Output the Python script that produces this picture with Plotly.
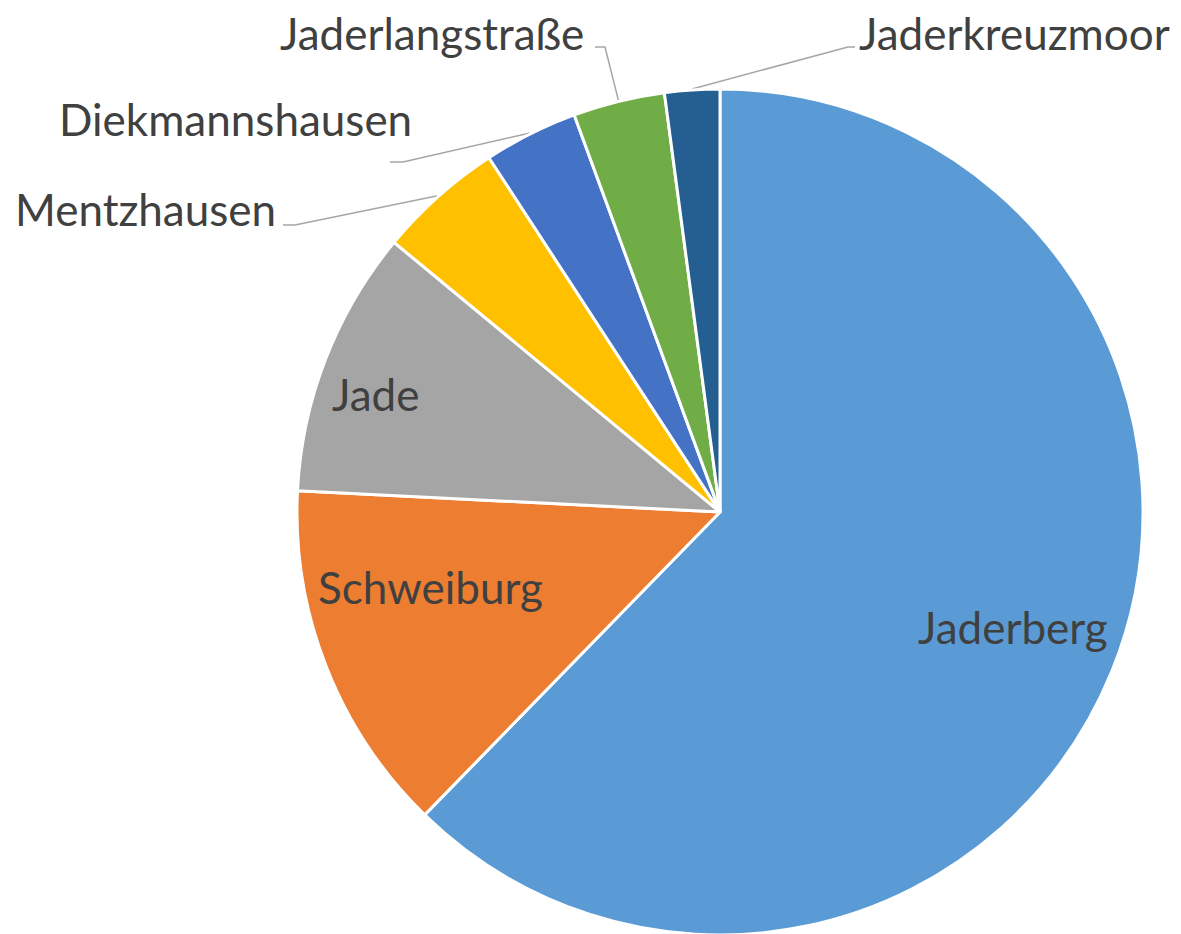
import math
import plotly.graph_objects as go

# ---- data ----
labels = ["Jaderberg", "Schweiburg", "Jade", "Mentzhausen",
          "Diekmannshausen", "Jaderlangstraße", "Jaderkreuzmoor"]
values = [62.3, 13.5, 10.2, 4.8, 3.6, 3.5, 2.1]
colors = ["#5B9BD5", "#ED7D31", "#A5A5A5", "#FFC000",
          "#4472C4", "#70AD47", "#255E91"]

# ---- layout constants (screen pixels; page body has an 8px margin) ----
W, H = 1181, 934
OFF = 8
CX, CY, R = 720, 512, 423
FONT = "Lato"
TXT = "#404040"
FS = 44

inside_pos = {"Jaderberg": (1013, 627), "Schweiburg": (430, 587), "Jade": (375, 394)}
# outside: (elbow x, elbow y, end x of short horizontal, text x, text y, anchor)
outside = {
    "Mentzhausen": (295, 225, 283, 278, 209, "right"),
    "Diekmannshausen": (403, 162, 390, 414, 119, "right"),
    "Jaderlangstraße": (605, 47, 595, 586, 33, "right"),
    "Jaderkreuzmoor": (848, 47, 855, 857, 33, "left"),
}

total = sum(values)
mids = {}
cum = 0.0
for lab, v in zip(labels, values):
    mids[lab] = (cum + v / 2) / total * 360.0
    cum += v

def edge(theta, r):
    t = math.radians(theta)
    return CX + r * math.sin(t), CY - r * math.cos(t)

fig = go.Figure()

for lab, (ex, ey, hx, tx, ty, anc) in outside.items():
    sx, sy = edge(mids[lab], R + 1)
    fig.add_trace(go.Scatter(x=[sx, ex, hx], y=[sy, ey, ey], mode="lines",
                             line=dict(color="#A6A6A6", width=1.5),
                             hoverinfo="skip", showlegend=False))

fx0, fx1 = CX - R - OFF, CX + R - OFF
fy_top, fy_bot = CY - R - OFF, CY + R - OFF
fig.add_trace(go.Pie(
    labels=labels, values=values, sort=False, direction="clockwise", rotation=0,
    marker=dict(colors=colors, line=dict(color="white", width=3)),
    textinfo="none", hoverinfo="label+percent", showlegend=False,
    domain=dict(x=[fx0 / W, fx1 / W],
                y=[max(0, (H - fy_bot) / H), min(1, (H - fy_top) / H)]),
))

ann = []
for lab, (x, y) in inside_pos.items():
    ann.append(dict(x=x, y=y, xref="x", yref="y", text=lab, showarrow=False,
                    xanchor="center", yanchor="middle",
                    font=dict(family=FONT, size=FS, color=TXT)))
for lab, (ex, ey, hx, tx, ty, anc) in outside.items():
    ann.append(dict(x=tx, y=ty, xref="x", yref="y", text=lab, showarrow=False,
                    xanchor=anc, yanchor="middle",
                    font=dict(family=FONT, size=FS, color=TXT)))

fig.update_layout(
    width=W, height=H, margin=dict(l=0, r=0, t=0, b=0),
    paper_bgcolor="white", plot_bgcolor="rgba(0,0,0,0)",
    xaxis=dict(range=[OFF, W + OFF], visible=False, fixedrange=True, domain=[0, 1]),
    yaxis=dict(range=[H + OFF, OFF], visible=False, fixedrange=True, domain=[0, 1]),
    annotations=ann,
)

fig.write_html("out.html")
